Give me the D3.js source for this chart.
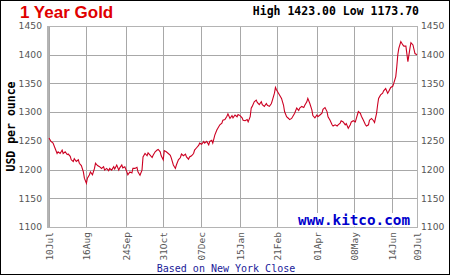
<!DOCTYPE html>
<html>
<head>
<meta charset="utf-8">
<script src="https://cdn.jsdelivr.net/npm/d3@7"></script>
<style>
  body { margin: 0; background: #fff; }
</style>
</head>
<body>
<main></main>
<script>
// gold price, USD per ounce (New York close)
let dates = [
  "2018-07-10","2018-07-12","2018-07-14","2018-07-16","2018-07-18","2018-07-19","2018-07-21","2018-07-23","2018-07-24","2018-07-26","2018-07-28","2018-07-29","2018-07-31",
  "2018-08-01","2018-08-03","2018-08-04","2018-08-06","2018-08-08","2018-08-09","2018-08-11","2018-08-13","2018-08-14","2018-08-16","2018-08-17","2018-08-19","2018-08-20","2018-08-22","2018-08-24","2018-08-25","2018-08-27","2018-08-29","2018-08-31",
  "2018-09-02","2018-09-03","2018-09-05","2018-09-07","2018-09-08","2018-09-10","2018-09-12","2018-09-13","2018-09-15","2018-09-17","2018-09-18","2018-09-20","2018-09-21","2018-09-23","2018-09-25","2018-09-26","2018-09-28","2018-09-30",
  "2018-10-01","2018-10-03","2018-10-05","2018-10-06","2018-10-08","2018-10-10","2018-10-11","2018-10-13","2018-10-15","2018-10-16","2018-10-18","2018-10-20","2018-10-21","2018-10-23","2018-10-25","2018-10-26","2018-10-28","2018-10-29","2018-10-31",
  "2018-11-01","2018-11-03","2018-11-05","2018-11-07","2018-11-08","2018-11-10","2018-11-12","2018-11-13","2018-11-15","2018-11-17","2018-11-18","2018-11-20","2018-11-22","2018-11-23","2018-11-25","2018-11-26","2018-11-28","2018-11-30",
  "2018-12-01","2018-12-03","2018-12-05","2018-12-06","2018-12-08","2018-12-10","2018-12-11","2018-12-13","2018-12-15","2018-12-16","2018-12-18","2018-12-19","2018-12-21","2018-12-23","2018-12-24","2018-12-26","2018-12-28","2018-12-29","2018-12-31",
  "2019-01-02","2019-01-03","2019-01-05","2019-01-07","2019-01-08","2019-01-10","2019-01-12","2019-01-13","2019-01-15","2019-01-17","2019-01-18","2019-01-20","2019-01-22","2019-01-23","2019-01-25","2019-01-26","2019-01-27","2019-01-29","2019-01-31",
  "2019-02-01","2019-02-03","2019-02-05","2019-02-06","2019-02-08","2019-02-10","2019-02-11","2019-02-13","2019-02-15","2019-02-16","2019-02-18","2019-02-19","2019-02-20","2019-02-22","2019-02-23","2019-02-25","2019-02-27","2019-02-28",
  "2019-03-02","2019-03-04","2019-03-05","2019-03-07","2019-03-09","2019-03-10","2019-03-12","2019-03-14","2019-03-15","2019-03-17","2019-03-19","2019-03-20","2019-03-22","2019-03-23","2019-03-25","2019-03-27","2019-03-28","2019-03-30",
  "2019-04-01","2019-04-02","2019-04-04","2019-04-06","2019-04-07","2019-04-09","2019-04-11","2019-04-12","2019-04-14","2019-04-16","2019-04-17","2019-04-19","2019-04-21","2019-04-22","2019-04-24","2019-04-25","2019-04-27","2019-04-29","2019-04-30",
  "2019-05-02","2019-05-04","2019-05-05","2019-05-07","2019-05-09","2019-05-10","2019-05-12","2019-05-14","2019-05-15","2019-05-17","2019-05-19","2019-05-20","2019-05-22","2019-05-23","2019-05-25","2019-05-27","2019-05-28","2019-05-30","2019-05-31",
  "2019-06-01","2019-06-03","2019-06-05","2019-06-06","2019-06-08","2019-06-10","2019-06-11","2019-06-13","2019-06-15","2019-06-16","2019-06-18","2019-06-19","2019-06-20","2019-06-21","2019-06-23","2019-06-25","2019-06-26","2019-06-28","2019-06-30",
  "2019-07-02","2019-07-03","2019-07-05","2019-07-07","2019-07-09"
]
let prices = [
  1255,1249,1246,1237,1228,1231,1228,1234,1228,1231,1226,1227,1223,
  1217,1214,1219,1214,1217,1211,1207,1196,1185,1176,1185,1191,1196,1191,1202,1211,1207,1205,1202,
  1205,1199,1202,1198,1202,1199,1205,1201,1208,1199,1203,1208,1203,1205,1196,1191,1196,1194,
  1202,1202,1204,1196,1190,1199,1222,1228,1224,1229,1225,1221,1225,1231,1234,1235,1231,1224,1217,
  1233,1231,1228,1225,1220,1208,1202,1208,1217,1221,1227,1224,1227,1222,1218,1222,1224,1228,
  1234,1238,1242,1246,1244,1249,1246,1249,1243,1249,1251,1246,1260,1269,1272,1278,1281,1286,1287,
  1293,1297,1289,1294,1290,1295,1292,1296,1294,1290,1286,1285,1287,1283,1292,1307,1310,1318,1321,
  1317,1313,1318,1313,1310,1315,1312,1310,1315,1321,1333,1343,1339,1333,1330,1324,1312,1301,
  1292,1289,1287,1289,1295,1298,1307,1303,1307,1310,1308,1312,1318,1324,1315,1304,1294,1290,
  1295,1292,1295,1298,1305,1308,1301,1292,1286,1278,1276,1278,1276,1278,1281,1285,1283,1278,1280,
  1272,1278,1283,1285,1283,1289,1301,1298,1293,1286,1278,1276,1278,1286,1289,1285,1282,1298,1312,
  1324,1330,1333,1337,1341,1333,1336,1343,1345,1350,1362,1379,1400,1411,1423,1417,1415,1415,1388,
  1411,1421,1417,1402,1400
]

let priceTicks = [1100, 1150, 1200, 1250, 1300, 1350, 1400, 1450]
let tickDates = ["2018-07-10","2018-08-16","2018-09-24","2018-10-31","2018-12-07","2019-01-15","2019-02-21","2019-04-01","2019-05-08","2019-06-14","2019-07-09"]
let tickLabels = ["10Jul","16Aug","24Sep","31Oct","07Dec","15Jan","21Feb","01Apr","08May","14Jun","09Jul"]
let high = 1423.00
let low = 1173.70

//set dimensions
const svgWidth = 450
const svgHeight = 275
const plotLeft = 48
const plotRight = 417
const plotTop = 26
const plotBottom = 227

const mono = "'DejaVu Sans Mono', monospace"

let svg = d3.select("main")
    .append("svg")
    .attr("width", svgWidth)
    .attr("height", svgHeight)
    .style("display", "block")
    .style("background-color", "white")

// outer border
svg.append("rect")
    .attr("x", 0.5).attr("y", 0.5)
    .attr("width", svgWidth - 1).attr("height", svgHeight - 1)
    .attr("fill", "none")
    .attr("stroke", "black")

let parseDate = d3.timeParse("%Y-%m-%d")
let data = dates.map((d, i) => ({ date: parseDate(d), price: prices[i] }))
let ticks = tickDates.map(parseDate)

let xScale = d3.scaleTime()
    .domain([ticks[0], ticks[ticks.length - 1]])
    .range([plotLeft + 1, plotRight])

let yScale = d3.scaleLinear()
    .domain([1100, 1450])
    .range([plotBottom, plotTop])

// grid
svg.append("g")
    .selectAll("line")
    .data(priceTicks)
    .enter()
    .append("line")
    .attr("x1", plotLeft).attr("x2", plotRight)
    .attr("y1", d => Math.round(yScale(d)) + 0.5)
    .attr("y2", d => Math.round(yScale(d)) + 0.5)
    .attr("stroke", "#a8a8a8")

svg.append("g")
    .selectAll("line")
    .data(ticks)
    .enter()
    .append("line")
    .attr("x1", d => Math.round(xScale(d)) + 0.5)
    .attr("x2", d => Math.round(xScale(d)) + 0.5)
    .attr("y1", plotTop).attr("y2", plotBottom)
    .attr("stroke", "#a8a8a8")

// frame
svg.append("rect")
    .attr("x", plotLeft + 0.5).attr("y", plotTop + 0.5)
    .attr("width", plotRight - plotLeft).attr("height", plotBottom - plotTop)
    .attr("fill", "none")
    .attr("stroke", "#b4b4b4")

svg.append("line")
    .attr("x1", plotLeft).attr("x2", plotLeft)
    .attr("y1", plotTop).attr("y2", plotBottom + 1)
    .attr("stroke", "#b4b4b4")
    .attr("stroke-width", 2)

// kitco box
svg.append("rect")
    .attr("x", 296).attr("y", 213)
    .attr("width", 120).attr("height", 13.5)
    .attr("fill", "white")

svg.append("text")
    .attr("x", 410).attr("y", 225)
    .attr("text-anchor", "end")
    .style("font", `bold 14.3px ${mono}`)
    .attr("fill", "#0000cc")
    .text("www.kitco.com")

// price line
let line = d3.line()
    .x(d => xScale(d.date))
    .y(d => yScale(d.price))

svg.append("path")
    .datum(data)
    .attr("d", line)
    .attr("fill", "none")
    .attr("stroke", "#cc0022")
    .attr("stroke-width", 1.1)

// y axes both sides
let leftAxis = svg.append("g")
    .attr("transform", `translate(${plotLeft}, 0)`)
    .call(d3.axisLeft(yScale).tickValues(priceTicks).tickFormat(d3.format("d")).tickSize(0).tickPadding(6))

let rightAxis = svg.append("g")
    .attr("transform", `translate(${plotRight}, 0)`)
    .call(d3.axisRight(yScale).tickValues(priceTicks).tickFormat(d3.format("d")).tickSize(0).tickPadding(4))

for (let ax of [leftAxis, rightAxis]) {
  ax.select(".domain").remove()
  ax.selectAll("text")
      .attr("fill", "#555")
      .attr("dy", "0.3em")
      .style("font", "9.2px 'DejaVu Sans', sans-serif")
}

// x axis, rotated labels
let xAxis = svg.append("g")
    .attr("transform", `translate(0, ${plotBottom})`)
    .call(d3.axisBottom(xScale).tickValues(ticks).tickSize(0).tickFormat((d, i) => tickLabels[i]))

xAxis.select(".domain").remove()
xAxis.selectAll("text")
    .attr("transform", "rotate(-90)")
    .attr("text-anchor", "end")
    .attr("x", -5)
    .attr("y", 0)
    .attr("dy", "0.36em")
    .attr("fill", "#555")
    .style("font", `9.5px ${mono}`)

//titles
svg.append("text")
    .attr("x", 20).attr("y", 18)
    .attr("fill", "#e00000")
    .style("font", "bold 17px 'Liberation Sans', Arial, sans-serif")
    .text("1 Year Gold")

svg.append("text")
    .attr("x", 419).attr("y", 15)
    .attr("text-anchor", "end")
    .attr("fill", "black")
    .style("font", `bold 11.5px ${mono}`)
    .text(`High ${high.toFixed(2)} Low ${low.toFixed(2)}`)

svg.append("text")
    .attr("transform", `translate(14.5, ${(plotTop + plotBottom) / 2}) rotate(-90)`)
    .attr("text-anchor", "middle")
    .attr("fill", "black")
    .style("font", `bold 11.5px ${mono}`)
    .text("USD per ounce")

svg.append("text")
    .attr("x", 226).attr("y", 272)
    .attr("text-anchor", "middle")
    .attr("fill", "#1a1a99")
    .style("font", `10px ${mono}`)
    .text("Based on New York Close")
</script>
</body>
</html>
